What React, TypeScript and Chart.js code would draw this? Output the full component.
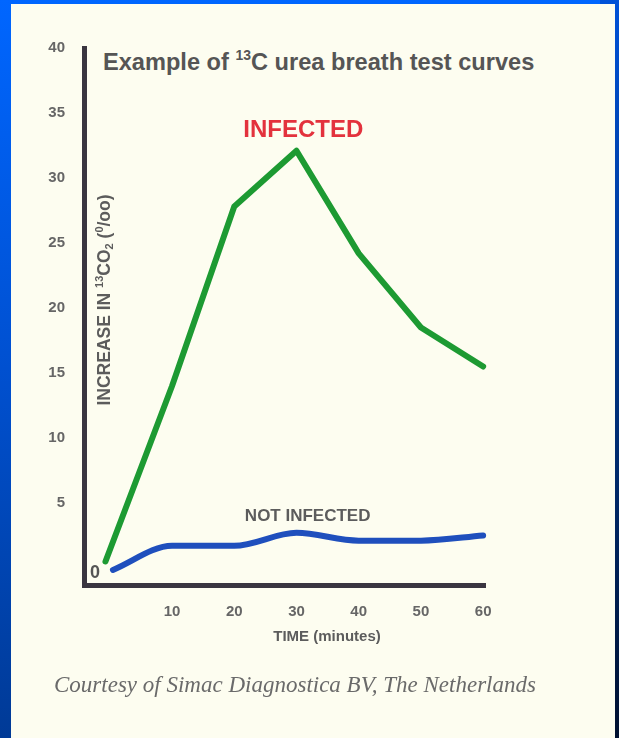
import React, { useEffect, useRef } from "react";
import { Chart, registerables } from "chart.js";

Chart.register(...registerables);

// ---- data ----
const TIME_TICKS = [10, 20, 30, 40, 50, 60];
const VALUE_TICKS = [5, 10, 15, 20, 25, 30, 35, 40];
const INFECTED_TIME = [-0.7, 10, 20, 30, 40, 50, 60];
const INFECTED_VALUE = [0.5, 14.0, 27.8, 32.1, 24.2, 18.5, 15.5];
const NOT_INFECTED_TIME = [0.5, 10, 20, 30, 40, 50, 60];
const NOT_INFECTED_VALUE = [-0.15, 1.7, 1.7, 2.7, 2.1, 2.1, 2.5];
const SERIES_NAMES = ["INFECTED", "NOT INFECTED"];
// label anchors in data units [time, value]
const INFECTED_LABEL_AT = [31.1, 33.7];
const NOT_INFECTED_LABEL_AT = [31.8, 4.0];
const ORIGIN_LABEL_AT = [-2.4, -0.4];

const SANS = '"Liberation Sans", Arial, Helvetica, sans-serif';
const TEXT_GRAY = "#5c5c5c";

function drawRuns(ctx: CanvasRenderingContext2D, runs: { t: string; f: string; dy: number }[], cx: number, cy: number) {
  let total = 0;
  for (const r of runs) {
    ctx.font = r.f;
    total += ctx.measureText(r.t).width;
  }
  let x = cx - total / 2;
  ctx.textAlign = "left";
  for (const r of runs) {
    ctx.font = r.f;
    ctx.fillText(r.t, x, cy + r.dy);
    x += ctx.measureText(r.t).width;
  }
}

const annotationPlugin = {
  id: "annotations",
  afterDatasetsDraw(chart: any) {
    const { ctx, scales } = chart;
    const xs = scales.x;
    const ys = scales.y;
    ctx.save();
    ctx.textBaseline = "middle";
    ctx.textAlign = "center";

    ctx.fillStyle = "#e3323d";
    ctx.font = `bold 24px ${SANS}`;
    ctx.fillText(SERIES_NAMES[0], xs.getPixelForValue(INFECTED_LABEL_AT[0]), ys.getPixelForValue(INFECTED_LABEL_AT[1]));

    ctx.fillStyle = TEXT_GRAY;
    ctx.font = `bold 17px ${SANS}`;
    ctx.fillText(SERIES_NAMES[1], xs.getPixelForValue(NOT_INFECTED_LABEL_AT[0]), ys.getPixelForValue(NOT_INFECTED_LABEL_AT[1]));

    ctx.font = `bold 18px ${SANS}`;
    ctx.fillStyle = "#555555";
    ctx.fillText("0", xs.getPixelForValue(ORIGIN_LABEL_AT[0]), ys.getPixelForValue(ORIGIN_LABEL_AT[1]));

    // x axis title
    ctx.fillStyle = TEXT_GRAY;
    ctx.font = `bold 15px ${SANS}`;
    ctx.fillText("TIME (minutes)", 327, 637);

    // rotated y axis title
    ctx.save();
    ctx.translate(105, 300);
    ctx.rotate(-Math.PI / 2);
    ctx.textBaseline = "middle";
    const big = `bold 17.5px ${SANS}`;
    const small = `bold 11px ${SANS}`;
    drawRuns(
      ctx,
      [
        { t: "INCREASE IN ", f: big, dy: 0 },
        { t: "13", f: small, dy: -5 },
        { t: "CO", f: big, dy: 0 },
        { t: "2", f: small, dy: 5 },
        { t: " (", f: big, dy: 0 },
        { t: "0", f: small, dy: -5 },
        { t: "/oo)", f: big, dy: 0 },
      ],
      0,
      0
    );
    ctx.restore();
    ctx.restore();
  },
};

export default function App() {
  const canvasRef = useRef<HTMLCanvasElement | null>(null);

  useEffect(() => {
    document.body.style.margin = "0";
    const canvas = canvasRef.current;
    if (!canvas) return;
    const chart = new Chart(canvas, {
      type: "line",
      data: {
        datasets: [
          {
            label: SERIES_NAMES[0],
            data: INFECTED_TIME.map((t, i) => ({ x: t, y: INFECTED_VALUE[i] })),
            borderColor: "#1d9a32",
            borderWidth: 6,
            pointRadius: 0,
            tension: 0,
            borderJoinStyle: "round",
            borderCapStyle: "round",
            clip: false,
          } as any,
          {
            label: SERIES_NAMES[1],
            data: NOT_INFECTED_TIME.map((t, i) => ({ x: t, y: NOT_INFECTED_VALUE[i] })),
            borderColor: "#1f4fbd",
            borderWidth: 6,
            pointRadius: 0,
            cubicInterpolationMode: "monotone",
            borderJoinStyle: "round",
            borderCapStyle: "round",
            clip: false,
          } as any,
        ],
      },
      options: {
        animation: false,
        responsive: false,
        devicePixelRatio: 1,
        layout: { padding: { left: 0, top: 48, right: 134, bottom: 0 } },
        plugins: { legend: { display: false }, tooltip: { enabled: false }, title: { display: false } },
        scales: {
          x: {
            type: "linear",
            min: -4.15,
            max: 60.3,
            grid: { display: false, drawTicks: false },
            border: { display: true, width: 5, color: "#3a3540" },
            ticks: {
              color: "#666666",
              font: { family: SANS, size: 15, weight: "bold" },
              padding: 18,
            },
            afterBuildTicks: (s: any) => {
              s.ticks = TIME_TICKS.map((v) => ({ value: v }));
            },
            afterFit: (s: any) => {
              s.height = 153;
            },
          },
          y: {
            type: "linear",
            min: -1.31,
            max: 40,
            grid: { display: false, drawTicks: false },
            border: { display: true, width: 5, color: "#3a3540" },
            ticks: {
              color: "#666666",
              font: { family: SANS, size: 15, weight: "bold" },
              padding: 19,
            },
            afterBuildTicks: (s: any) => {
              s.ticks = VALUE_TICKS.map((v) => ({ value: v }));
            },
            afterFit: (s: any) => {
              s.width = 84;
            },
          },
        },
      } as any,
      plugins: [annotationPlugin],
    });
    return () => chart.destroy();
  }, []);

  return (
    <div
      style={{
        position: "relative",
        width: 619,
        height: 738,
        overflow: "hidden",
        background: "linear-gradient(to bottom, #0066ff 0%, #0050d0 50%, #003a96 100%)",
      }}
    >
      <div
        style={{
          position: "absolute",
          left: 600,
          top: 0,
          width: 19,
          height: 738,
          background: "linear-gradient(to bottom, #0052d8 0%, #00307a 55%, #001030 100%)",
        }}
      />
      <div style={{ position: "absolute", left: 11, top: 4, width: 604, height: 734, background: "#fdfdf0" }} />
      <div
        style={{
          position: "absolute",
          left: 103,
          top: 49,
          fontFamily: SANS,
          fontWeight: "bold",
          fontSize: 23.6,
          lineHeight: "26px",
          color: "#555555",
          whiteSpace: "nowrap",
        }}
      >
        Example of <span style={{ fontSize: 14, position: "relative", top: -10 }}>13</span>C urea breath test curves
      </div>
      <canvas
        ref={canvasRef}
        width={619}
        height={738}
        style={{ position: "absolute", left: 0, top: 0, width: 619, height: 738 }}
      />
      <div
        style={{
          position: "absolute",
          left: 0,
          top: 672,
          width: 590,
          textAlign: "center",
          fontFamily: '"Liberation Serif", "Times New Roman", serif',
          fontStyle: "italic",
          fontSize: 23,
          lineHeight: "26px",
          color: "#6a6a6a",
          whiteSpace: "nowrap",
        }}
      >
        Courtesy of Simac Diagnostica BV, The Netherlands
      </div>
    </div>
  );
}
